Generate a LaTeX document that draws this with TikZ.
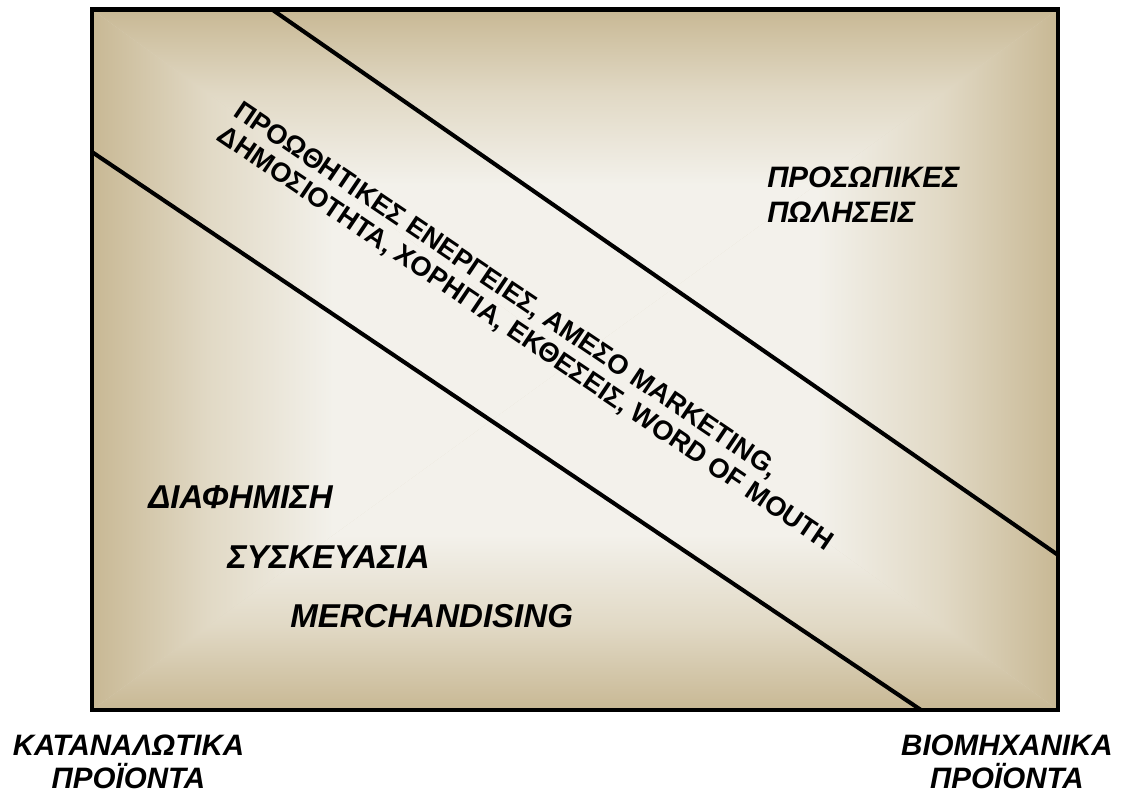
\documentclass[tikz,border=0pt]{standalone}
\usepackage{fontspec}
\setmainfont{Liberation Sans}
\definecolor{paneledge}{RGB}{200,184,148}
\definecolor{panelmid}{RGB}{225,217,197}
\definecolor{panelcore}{RGB}{243,241,235}
% fade from the frame edge (top) to the middle (bottom)
\pgfdeclareverticalshading{panelfade}{100bp}{color(0bp)=(panelcore); color(25bp)=(panelcore); color(50bp)=(panelcore); color(63bp)=(panelmid); color(75bp)=(paneledge); color(100bp)=(paneledge)}
\tikzset{panelshade/.style={shading=panelfade, shading angle=#1},
  divider/.style={line width=2.9pt},
  tag/.style={font=\fontsize{23.5}{26}\selectfont\bfseries\itshape, inner sep=0pt},
  endtag/.style={tag, font=\fontsize{21}{23.4}\selectfont\bfseries\itshape, align=center, anchor=north},
  bandtext/.style={font=\fontsize{19.3}{21}\selectfont\bfseries, inner sep=0pt, align=left, rotate=-34}}

\begin{document}
\begin{tikzpicture}[x=0.025cm, y=-0.025cm]
\useasboundingbox (0,0) rectangle (1122,795);
\coordinate (nw) at (92,9.5);
\coordinate (ne) at (1058,9.5);
\coordinate (se) at (1058,710);
\coordinate (sw) at (92,710);
\coordinate (mid) at (575,359.75);
% background
\fill [panelmid] (nw) rectangle (se);
\shade [panelshade=0] (nw) -- (ne) -- (mid) -- cycle;
\shade [panelshade=270] (ne) -- (se) -- (mid) -- cycle;
\shade [panelshade=180] (se) -- (sw) -- (mid) -- cycle;
\shade [panelshade=90] (sw) -- (nw) -- (mid) -- cycle;
% band borders
\coordinate (upA) at (272,9.5);
\coordinate (upB) at (1058,555);
\coordinate (loA) at (92,152);
\coordinate (loB) at (921,710);
\draw [divider] (upA) -- (upB);
\draw [divider] (loA) -- (loB);
\draw [divider] (nw) rectangle (se);
\node [bandtext, anchor=north west] (band) at (243,99) {ΠΡΟΩΘΗΤΙΚΕΣ ΕΝΕΡΓΕΙΕΣ, ΑΜΕΣΟ MARKETING,\\ΔΗΜΟΣΙΟΤΗΤΑ, ΧΟΡΗΓΙΑ, ΕΚΘΕΣΕΙΣ, WORD OF MOUTH};
\node [tag, font=\fontsize{21}{24.8}\selectfont\bfseries\itshape, align=left, anchor=north west] (sales) at (767,167) {ΠΡΟΣΩΠΙΚΕΣ\\ΠΩΛΗΣΕΙΣ};
\node [tag, anchor=base west] (ads) at (148,508) {ΔΙΑΦΗΜΙΣΗ};
\node [tag, anchor=base west] (pack) at (227,568) {ΣΥΣΚΕΥΑΣΙΑ};
\node [tag, anchor=base west] (merch) at (290,627) {MERCHANDISING};
\node [endtag] (consumer) at (128.5,735) {ΚΑΤΑΝΑΛΩΤΙΚΑ\\ΠΡΟΪΟΝΤΑ};
\node [endtag] (industry) at (1007,735) {ΒΙΟΜΗΧΑΝΙΚΑ\\ΠΡΟΪΟΝΤΑ};
\end{tikzpicture}
\end{document}
